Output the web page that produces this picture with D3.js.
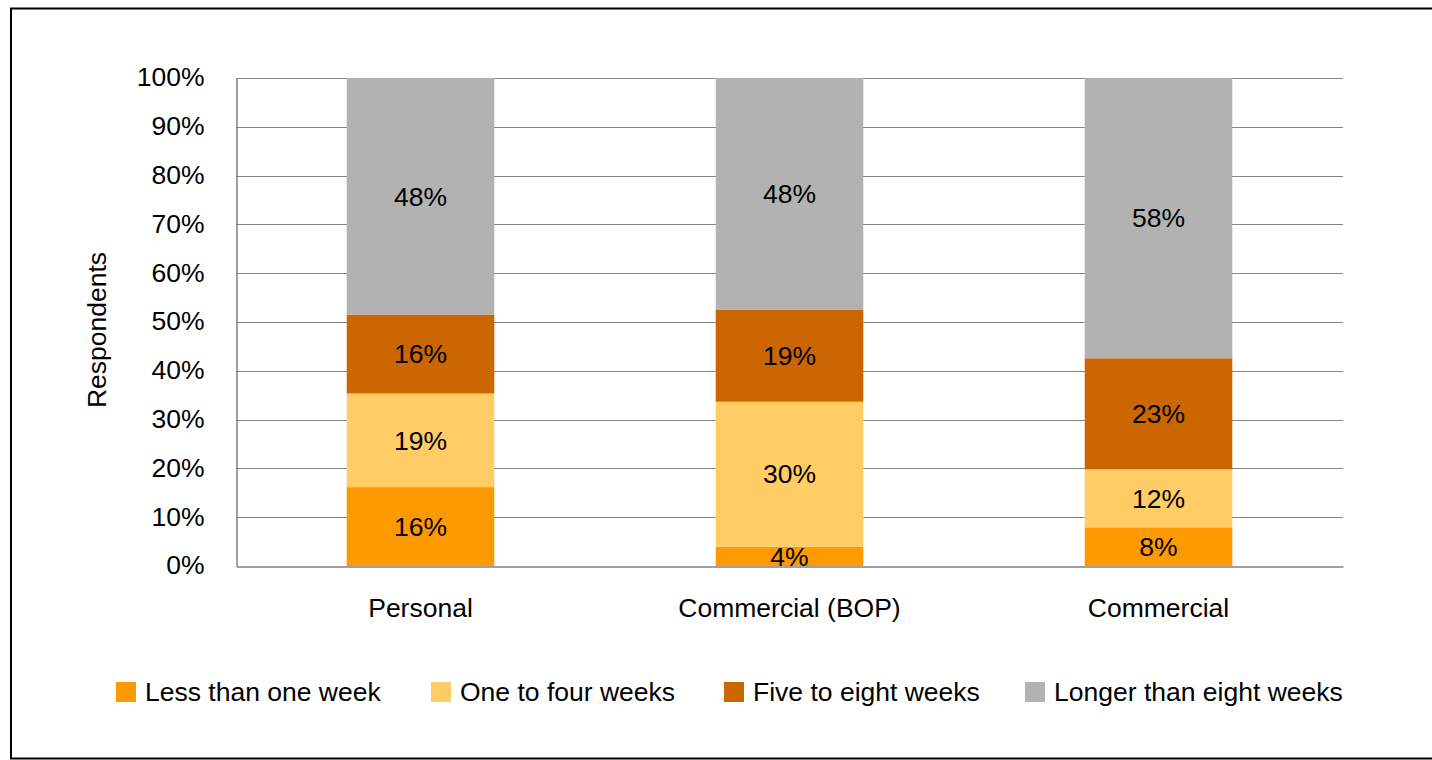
<!DOCTYPE html>
<html><head><meta charset="utf-8">
<script src="https://cdn.jsdelivr.net/npm/d3@7"></script>
<style>body{margin:0;background:#fff}svg{display:block}text{font-family:"Liberation Sans",Arial,sans-serif;fill:#000}</style>
</head><body><svg id="c" width="1432" height="760"></svg>
<script>
const categories = ["Personal", "Commercial (BOP)", "Commercial"];
const seriesNames = ["Less than one week", "One to four weeks", "Five to eight weeks", "Longer than eight weeks"];
const lessThanOneWeek = [16, 4, 8];
const oneToFourWeeks = [19, 30, 12];
const fiveToEightWeeks = [16, 19, 23];
const longerThanEightWeeks = [48, 48, 58];
const colors = ["#FF9900", "#FFCC66", "#CC6600", "#B2B2B2"];
const yTicks = [0, 10, 20, 30, 40, 50, 60, 70, 80, 90, 100];

(function () {
const FS = 26.5;
const series = [lessThanOneWeek, oneToFourWeeks, fiveToEightWeeks, longerThanEightWeeks];
const svg = d3.select("#c");

svg.append("rect").attr("x", 11).attr("y", 8.5).attr("width", 1440).attr("height", 750)
  .attr("fill", "#fff").attr("stroke", "#000").attr("stroke-width", 2);

const pLeft = 236, pRight = 1343, pTop = 78, pBottom = 566;
const x = d3.scaleBand().domain(categories).range([pLeft, pRight]).paddingInner(0.6).paddingOuter(0.3);
const y = d3.scaleLinear().domain([0, 100]).range([pBottom, pTop]);

// gridlines
svg.append("g").selectAll("line").data(yTicks.filter(t => t > 0)).join("line")
  .attr("x1", pLeft).attr("x2", pRight)
  .attr("y1", d => Math.round(y(d)) + 0.5).attr("y2", d => Math.round(y(d)) + 0.5)
  .attr("stroke", "#858585").attr("stroke-width", 1.2);

// stacked normalized data (100% stacked)
const rows = categories.map((c, i) => {
  const vals = series.map(s => s[i]);
  const total = d3.sum(vals);
  let acc = 0;
  return vals.map((v, k) => {
    const y0 = acc / total * 100; acc += v; const y1 = acc / total * 100;
    return {cat: c, k, v, y0, y1};
  });
});

const g = svg.append("g");
rows.forEach(r => {
  g.selectAll(null).data(r).join("rect")
    .attr("x", d => x(d.cat)).attr("width", x.bandwidth())
    .attr("y", d => y(d.y1)).attr("height", d => y(d.y0) - y(d.y1))
    .attr("fill", d => colors[d.k]);
  g.selectAll(null).data(r).join("text")
    .attr("x", d => x(d.cat) + x.bandwidth() / 2)
    .attr("y", d => (y(d.y0) + y(d.y1)) / 2)
    .attr("dy", "0.35em")
    .attr("text-anchor", "middle").attr("font-size", FS)
    .text(d => d.v + "%");
});

// axes
const yAxis = d3.axisLeft(y).tickValues(yTicks).tickSize(0).tickPadding(32).tickFormat(d => d + "%");
const ya = svg.append("g").attr("transform", `translate(${pLeft + 0.5},0)`).call(yAxis);
ya.select(".domain").attr("stroke", "#808080").attr("stroke-width", 1.5);
ya.selectAll("text").attr("font-size", FS).attr("font-family", '"Liberation Sans",Arial,sans-serif').attr("fill", "#000").attr("dy", "0.3em");

const xAxis = d3.axisBottom(x).tickSize(0).tickPadding(32);
const xa = svg.append("g").attr("transform", `translate(0,${pBottom + 0.5})`).call(xAxis);
xa.select(".domain").attr("stroke", "#808080").attr("stroke-width", 1.5);
xa.selectAll("text").attr("font-size", FS).attr("font-family", '"Liberation Sans",Arial,sans-serif').attr("fill", "#000");

svg.append("text").attr("transform", "translate(106,330) rotate(-90)")
  .attr("text-anchor", "middle").attr("font-size", FS).text("Respondents");

// legend
const legendX = [116, 431, 724, 1025];
const lg = svg.append("g").selectAll("g").data(seriesNames).join("g")
  .attr("transform", (d, i) => `translate(${legendX[i]},682)`);
lg.append("rect").attr("width", 20).attr("height", 20).attr("fill", (d, i) => colors[i]);
lg.append("text").attr("x", 29).attr("y", 10).attr("dy", "0.33em").attr("font-size", FS).text(d => d);
})();
</script></body></html>
